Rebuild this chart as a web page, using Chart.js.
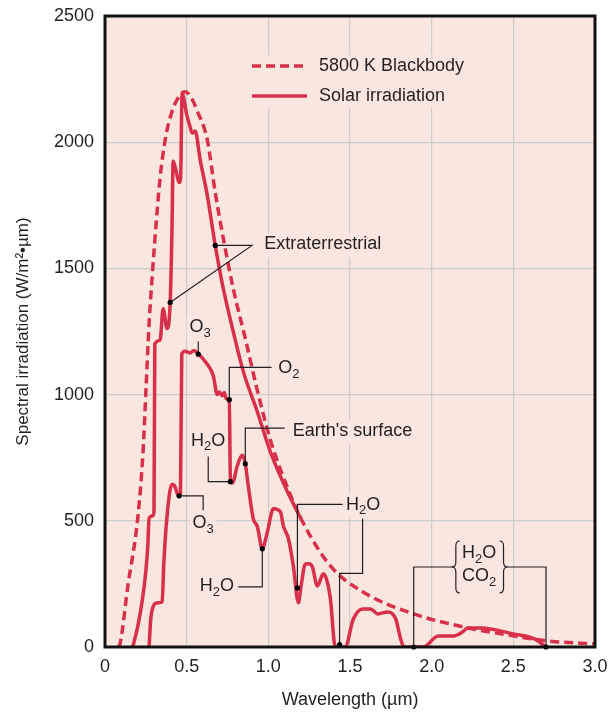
<!DOCTYPE html>
<html>
<head>
<meta charset="utf-8">
<script src="https://cdn.jsdelivr.net/npm/chart.js@4/dist/chart.umd.min.js"></script>
<style>
  html, body { margin: 0; padding: 0; background: #fff; }
  #chart1 { display: block; }
</style>
</head>
<body>
<canvas id="chart1" width="612" height="714"></canvas>
<script>
// values: wavelength in um, irradiation in W/m2.um
var bbWave  = [0.08, 0.092, 0.14, 0.20, 0.233, 0.252, 0.27, 0.288, 0.319, 0.337, 0.368, 0.411, 0.46, 0.49, 0.53, 0.564, 0.626, 0.675, 0.724, 0.785, 0.86, 0.93, 1.01, 1.12, 1.2, 1.38, 1.58, 1.89, 2.2, 2.5, 2.71, 3.0];
var bbValue = [0, 12, 242, 508, 774, 1036, 1282, 1460, 1726, 1857, 2008, 2123, 2187, 2200, 2175, 2125, 2010, 1800, 1620, 1420, 1220, 1024, 825, 627, 508, 321, 218, 131, 79, 44, 24, 12];

var extWave  = [0.17, 0.20, 0.227, 0.25, 0.262, 0.27, 0.294, 0.300, 0.305, 0.337, 0.356, 0.38, 0.399, 0.41, 0.417, 0.43, 0.455, 0.463, 0.472, 0.50, 0.52, 0.534, 0.552, 0.583, 0.626, 0.675, 0.724, 0.785, 0.847, 0.932, 1.012, 1.117, 1.2];
var extValue = [0, 80, 179, 300, 400, 510, 520, 540, 1200, 1215, 1340, 1262, 1365, 1650, 1925, 1900, 1840, 1860, 2194, 2110, 2063, 2036, 2044, 1929, 1790, 1591, 1421, 1250, 1091, 933, 774, 615, 508];

var surfWave  = [0.27, 0.28, 0.295, 0.307, 0.33, 0.35, 0.36, 0.38, 0.41, 0.425, 0.45, 0.462, 0.470, 0.49, 0.52, 0.545, 0.57, 0.613, 0.663, 0.687, 0.70, 0.718, 0.73, 0.742, 0.761, 0.768, 0.78, 0.81, 0.84, 0.859, 0.877, 0.908, 0.933, 0.963, 0.994, 1.031, 1.074, 1.092, 1.123, 1.153, 1.184, 1.20, 1.227, 1.25, 1.27, 1.30, 1.337, 1.36, 1.38, 1.41, 1.47, 1.52, 1.577, 1.626, 1.67, 1.73, 1.78, 1.81, 1.83, 1.95, 2.04, 2.135, 2.19, 2.22, 2.30, 2.5, 2.63, 2.7];
var surfValue = [0, 110, 160, 172, 175, 180, 330, 520, 645, 640, 600, 610, 1160, 1172, 1165, 1175, 1163, 1131, 1075, 1000, 1010, 995, 1008, 984, 980, 655, 650, 718, 760, 726, 639, 508, 476, 389, 456, 548, 536, 480, 429, 321, 175, 240, 329, 330, 317, 242, 290, 260, 190, 0, 0, 110, 151, 151, 131, 139, 111, 32, 0, 0, 44, 44, 60, 75, 75, 52, 32, 0];

var xTickLabels = ['0', '0.5', '1.0', '1.5', '2.0', '2.5', '3.0'];
var yTickLabels = ['0', '500', '1000', '1500', '2000', '2500'];

var red = '#d8304a';
var pink = '#f9e6df';
var ink = '#231f20';
var family = "'Liberation Sans', Arial, sans-serif";
var size = 18;

// leader lines + labels, in data units
var notes = [
  { dots: [[0.675, 1591], [0.399, 1365]], lines: [[[0.675, 1591], [0.90, 1591], [0.399, 1365]]],
    label: [['Extraterrestrial', 0]], at: [0.975, 1595], align: 'left' },
  { dots: [[0.571, 1160]], lines: [[[0.571, 1160], [0.571, 1210]]],
    label: [['O', 0], ['3', 1]], at: [0.583, 1268], align: 'center' },
  { dots: [[0.761, 980]], lines: [[[0.761, 980], [0.761, 1108], [1.02, 1108]]],
    label: [['O', 0], ['2', 1]], at: [1.06, 1104], align: 'left' },
  { dots: [[0.767, 655]], lines: [[[0.632, 755], [0.632, 655], [0.767, 655]]],
    label: [['H', 0], ['2', 1], ['O', 0]], at: [0.632, 817], align: 'center' },
  { dots: [[0.859, 726]], lines: [[[0.859, 726], [0.859, 867], [1.10, 867]]],
    label: [["Earth's surface", 0]], at: [1.15, 857], align: 'left' },
  { dots: [[0.454, 599]], lines: [[[0.454, 599], [0.601, 599], [0.601, 542]]],
    label: [['O', 0], ['3', 1]], at: [0.601, 490], align: 'center' },
  { dots: [[0.963, 389]], lines: [[[0.963, 389], [0.963, 238], [0.816, 238]]],
    label: [['H', 0], ['2', 1], ['O', 0]], at: [0.79, 240], align: 'right' },
  { dots: [[1.178, 234], [1.436, 10]],
    lines: [[[1.178, 234], [1.178, 565], [1.455, 565]], [[1.577, 508], [1.577, 292], [1.436, 292], [1.436, 10]]],
    label: [['H', 0], ['2', 1], ['O', 0]], at: [1.475, 563], align: 'left' },
  { dots: [[1.89, 0], [2.70, 0]], lines: [[[1.89, 0], [1.89, 317], [2.135, 317]], [[2.46, 317], [2.70, 317], [2.70, 0]]],
    label: [['H', 0], ['2', 1], ['O', 0]], at: [2.29, 372], align: 'center' },
  { dots: [], lines: [], label: [['CO', 0], ['2', 1]], at: [2.29, 281], align: 'center' }
];
var braces = [[2.148, 317, 1], [2.44, 317, -1]];

function toPoints(w, v) {
  return w.map(function (x, i) { return { x: x, y: v[i] }; });
}

function setFont(ctx, sub) {
  ctx.font = (sub ? 13 : size) + 'px ' + family;
}

function richBox(ctx, parts, x, align) {
  var w = 0;
  parts.forEach(function (p) { setFont(ctx, p[1]); w += ctx.measureText(p[0]).width; });
  var sx = align === 'left' ? x : (align === 'right' ? x - w : x - w / 2);
  return { x: sx, w: w };
}

function drawRich(ctx, parts, x, y, align) {
  var b = richBox(ctx, parts, x, align);
  var sx = b.x;
  ctx.textAlign = 'left';
  ctx.textBaseline = 'middle';
  ctx.fillStyle = ink;
  parts.forEach(function (p) {
    setFont(ctx, p[1]);
    ctx.fillText(p[0], sx, y + (p[1] ? 6 : 0));
    sx += ctx.measureText(p[0]).width;
  });
}

var notesPlugin = {
  id: 'notes',
  beforeDraw: function (chart) {
    var a = chart.chartArea, ctx = chart.ctx;
    ctx.save();
    ctx.fillStyle = pink;
    ctx.fillRect(a.left, a.top, a.right - a.left, a.bottom - a.top);
    ctx.restore();
  },
  beforeDatasetsDraw: function (chart) {
    // pink boxes behind labels cut the grid lines
    var ctx = chart.ctx, xs = chart.scales.x, ys = chart.scales.y, a = chart.chartArea;
    ctx.save();
    ctx.fillStyle = pink;
    notes.forEach(function (n) {
      var b = richBox(ctx, n.label, xs.getPixelForValue(n.at[0]), n.align);
      var py = ys.getPixelForValue(n.at[1]);
      ctx.fillRect(b.x - 3, py - 11, b.w + 6, 24);
    });
    ctx.fillRect(a.left + 140, a.top + 39, 242, 53);
    ctx.restore();
  },
  afterDatasetsDraw: function (chart) {
    var ctx = chart.ctx, xs = chart.scales.x, ys = chart.scales.y, a = chart.chartArea;
    ctx.save();
    ctx.strokeStyle = ink;
    ctx.lineWidth = 1.2;
    notes.forEach(function (n) {
      n.lines.forEach(function (l) {
        ctx.beginPath();
        l.forEach(function (p, i) {
          var px = xs.getPixelForValue(p[0]), py = ys.getPixelForValue(p[1]);
          if (i === 0) ctx.moveTo(px, py); else ctx.lineTo(px, py);
        });
        ctx.stroke();
      });
      n.dots.forEach(function (d) {
        ctx.fillStyle = '#000';
        ctx.beginPath();
        ctx.arc(xs.getPixelForValue(d[0]), ys.getPixelForValue(d[1]), 2.6, 0, Math.PI * 2);
        ctx.fill();
      });
      drawRich(ctx, n.label, xs.getPixelForValue(n.at[0]), ys.getPixelForValue(n.at[1]), n.align);
    });
    // curly braces round H2O / CO2
    braces.forEach(function (br) {
      var bx = xs.getPixelForValue(br[0]), by = ys.getPixelForValue(br[1]), s = br[2], h = 26;
      ctx.beginPath();
      ctx.moveTo(bx + 4 * s, by - h);
      ctx.quadraticCurveTo(bx, by - h, bx, by - h + 5);
      ctx.lineTo(bx, by - 5);
      ctx.quadraticCurveTo(bx, by, bx - 4 * s, by);
      ctx.quadraticCurveTo(bx, by, bx, by + 5);
      ctx.lineTo(bx, by + h - 5);
      ctx.quadraticCurveTo(bx, by + h, bx + 4 * s, by + h);
      ctx.stroke();
    });
    // legend
    var lx = a.left + 147, ly1 = a.top + 50, ly2 = a.top + 80;
    ctx.strokeStyle = red;
    ctx.lineWidth = 3.5;
    ctx.setLineDash([9, 5]);
    ctx.beginPath(); ctx.moveTo(lx, ly1); ctx.lineTo(lx + 55, ly1); ctx.stroke();
    ctx.setLineDash([]);
    ctx.beginPath(); ctx.moveTo(lx, ly2); ctx.lineTo(lx + 55, ly2); ctx.stroke();
    drawRich(ctx, [['5800 K Blackbody', 0]], lx + 67, ly1, 'left');
    drawRich(ctx, [['Solar irradiation', 0]], lx + 67, ly2, 'left');
    ctx.restore();
  },
  afterDraw: function (chart) {
    var a = chart.chartArea, ctx = chart.ctx;
    ctx.save();
    ctx.strokeStyle = '#111';
    ctx.lineWidth = 3;
    ctx.strokeRect(a.left, a.top, a.right - a.left, a.bottom - a.top);
    ctx.restore();
  }
};

var ctx = document.getElementById('chart1').getContext('2d');
var myChart = new Chart(ctx, {
  type: 'line',
  data: {
    datasets: [{
      label: '5800 K Blackbody',
      data: toPoints(bbWave, bbValue),
      borderColor: red,
      borderWidth: 3.5,
      borderDash: [9, 5],
      pointRadius: 0,
      fill: false,
      cubicInterpolationMode: 'monotone'
    },
    {
      label: 'Extraterrestrial',
      data: toPoints(extWave, extValue),
      borderColor: red,
      borderWidth: 3.5,
      pointRadius: 0,
      fill: false,
      cubicInterpolationMode: 'monotone'
    },
    {
      label: "Earth's surface",
      data: toPoints(surfWave, surfValue),
      borderColor: red,
      borderWidth: 3.5,
      pointRadius: 0,
      fill: false,
      cubicInterpolationMode: 'monotone'
    }]
  },
  options: {
    responsive: false,
    animation: false,
    layout: { padding: { top: 16, right: 17, bottom: 0, left: 0 } },
    plugins: {
      legend: { display: false },
      tooltip: { enabled: false }
    },
    scales: {
      x: {
        type: 'linear',
        min: 0,
        max: 3,
        afterFit: function (s) { s.height = 67; s.paddingLeft = 0; s.paddingRight = 0; },
        ticks: {
          stepSize: 0.5,
          padding: 9,
          color: ink,
          font: { family: family, size: 18 },
          maxRotation: 0,
          callback: function (v) { return xTickLabels[Math.round(v / 0.5)]; }
        },
        grid: { color: '#cccccc', lineWidth: 1.2, drawTicks: false },
        border: { display: false },
        title: {
          display: true,
          text: 'Wavelength (\u00b5m)',
          color: ink,
          font: { family: family, size: 18 },
          padding: { top: 0, bottom: 3 }
        }
      },
      y: {
        min: 0,
        max: 2500,
        afterFit: function (s) { s.width = 105; s.paddingTop = 0; s.paddingBottom = 0; },
        ticks: {
          stepSize: 500,
          padding: 11,
          color: ink,
          font: { family: family, size: 18 },
          callback: function (v) { return yTickLabels[Math.round(v / 500)]; }
        },
        grid: { color: '#cccccc', lineWidth: 1.2, drawTicks: false },
        border: { display: false },
        title: {
          display: true,
          text: 'Spectral irradiation (W/m\u00b2\u2022\u00b5m)',
          color: ink,
          font: { family: family, size: 17 },
          padding: { top: 13, bottom: 0 }
        }
      }
    }
  },
  plugins: [notesPlugin]
});
</script>
</body>
</html>
